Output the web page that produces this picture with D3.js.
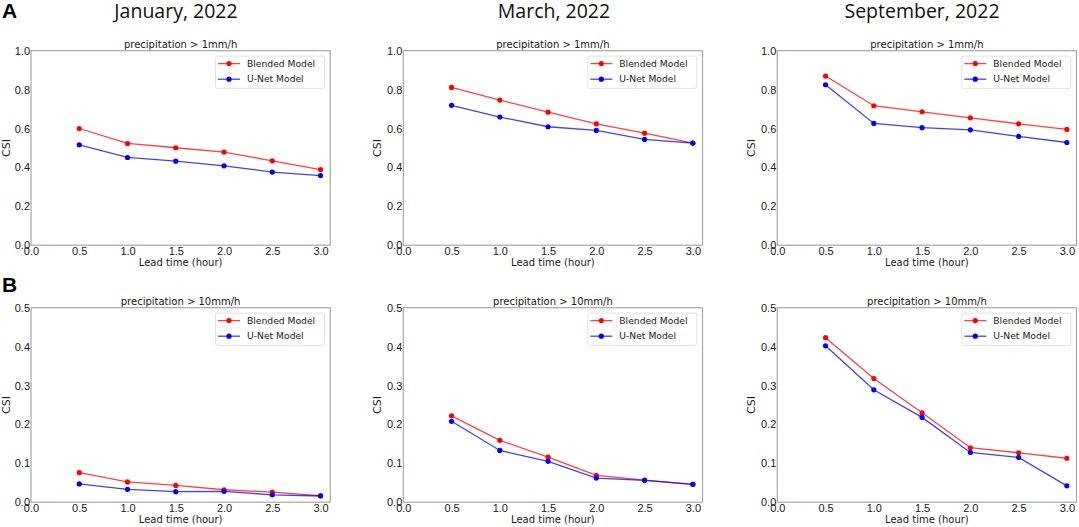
<!DOCTYPE html>
<html lang="en">
<head>
<meta charset="UTF-8">
<title>CSI by lead time</title>
<script src="https://d3js.org/d3.v7.min.js"></script>
<style>
    body { margin: 0; background: #fff; }
    svg { display: block; font-family: "DejaVu Sans", sans-serif; }
    .frame { fill: none; stroke: #a8a8a8; stroke-width: 1.2; }
    .tick text { fill: #1a1a1a; font-size: 11px; }
    .domain, .tick line { display: none; }
</style>
</head>
<body>
<div id="chart"></div>
<script>
    const leadTimes = [0.5, 1.0, 1.5, 2.0, 2.5, 3.0];
    const months = ["January, 2022", "March, 2022", "September, 2022"];
    const thresholds = ["precipitation > 1mm/h", "precipitation > 10mm/h"];
    const rowLetters = ["A", "B"];
    const rowMax = [1.0, 0.5];
    const yTicksTop = [0.0, 0.2, 0.4, 0.6, 0.8, 1.0];
    const yTicksBottom = [0.0, 0.1, 0.2, 0.3, 0.4, 0.5];
    const xTicks = [0.0, 0.5, 1.0, 1.5, 2.0, 2.5, 3.0];
    const seriesNames = ["Blended Model", "U-Net Model"];
    const seriesColors = ["#ff0000", "#0000ff"];

    // > 1mm/h
    const jan1Blended = [0.600, 0.523, 0.501, 0.479, 0.434, 0.389];
    const jan1Unet    = [0.516, 0.451, 0.432, 0.408, 0.376, 0.358];
    const mar1Blended = [0.811, 0.746, 0.684, 0.624, 0.576, 0.525];
    const mar1Unet    = [0.719, 0.659, 0.609, 0.590, 0.544, 0.525];
    const sep1Blended = [0.870, 0.717, 0.686, 0.655, 0.624, 0.595];
    const sep1Unet    = [0.825, 0.626, 0.604, 0.593, 0.559, 0.528];
    // > 10mm/h
    const jan10Blended = [0.076, 0.052, 0.043, 0.032, 0.026, 0.017];
    const jan10Unet    = [0.047, 0.033, 0.027, 0.028, 0.019, 0.016];
    const mar10Blended = [0.222, 0.159, 0.116, 0.069, 0.057, 0.046];
    const mar10Unet    = [0.208, 0.133, 0.105, 0.062, 0.056, 0.046];
    const sep10Blended = [0.423, 0.318, 0.230, 0.140, 0.127, 0.113];
    const sep10Unet    = [0.402, 0.289, 0.218, 0.128, 0.115, 0.042];

    const panelValues = [
        [[jan1Blended, jan1Unet], [mar1Blended, mar1Unet], [sep1Blended, sep1Unet]],
        [[jan10Blended, jan10Unet], [mar10Blended, mar10Unet], [sep10Blended, sep10Unet]]
    ];

    const W = 1079, H = 527;
    const colLeft = [31, 403.3, 777.3];
    const rowTop = [50.7, 307.7];
    const pw = 299.2, ph = 194.5;
    const monthCenters = [176, 554, 922];

    const svg = d3.select("#chart").append("svg")
        .attr("width", W).attr("height", H);

    months.forEach((m, i) => {
        svg.append("text")
            .attr("x", monthCenters[i]).attr("y", 18)
            .attr("text-anchor", "middle")
            .style("font-family", "'Open Sans', sans-serif")
            .style("font-size", "19.5px")
            .attr("fill", "#111")
            .text(m);
    });

    rowLetters.forEach((l, r) => {
        svg.append("text")
            .attr("x", 2).attr("y", r === 0 ? 18 : 291.7)
            .style("font-family", "'Liberation Sans', Arial, sans-serif")
            .style("font-size", "21px")
            .style("font-weight", "bold")
            .attr("fill", "#000")
            .text(l);
    });

    const line = (x, y) => d3.line()
        .x((d, i) => x(leadTimes[i]))
        .y(d => y(d));

    for (let r = 0; r < 2; r++) {
        for (let c = 0; c < 3; c++) {
            const g = svg.append("g")
                .attr("transform", `translate(${colLeft[c]},${rowTop[r]})`);

            const x = d3.scaleLinear().domain([0, 3.1]).range([0, pw]);
            const y = d3.scaleLinear().domain([0, rowMax[r]]).range([ph, 0]);

            g.append("g")
                .attr("transform", `translate(0,${ph})`)
                .call(d3.axisBottom(x).tickValues(xTicks).tickSize(0).tickPadding(2)
                    .tickFormat(d3.format(".1f")));

            g.append("g")
                .call(d3.axisLeft(y).tickValues(r === 0 ? yTicksTop : yTicksBottom)
                    .tickSize(0).tickPadding(1).tickFormat(d3.format(".1f")));

            g.append("rect").attr("class", "frame")
                .attr("width", pw).attr("height", ph);

            g.append("text")
                .attr("x", pw / 2).attr("y", -3)
                .attr("text-anchor", "middle")
                .style("font-size", "10px")
                .attr("fill", "#1a1a1a")
                .text(thresholds[r]);

            g.append("text")
                .attr("x", pw / 2).attr("y", ph + 21)
                .attr("text-anchor", "middle")
                .style("font-size", "10px")
                .attr("fill", "#1a1a1a")
                .text("Lead time (hour)");

            g.append("text")
                .attr("transform", `translate(${c === 0 ? -21 : -22},${ph / 2}) rotate(-90)`)
                .attr("text-anchor", "middle")
                .style("font-size", "11px")
                .attr("fill", "#1a1a1a")
                .text("CSI");

            panelValues[r][c].forEach((vals, s) => {
                g.append("path")
                    .datum(vals)
                    .attr("fill", "none")
                    .attr("stroke", seriesColors[s])
                    .attr("stroke-opacity", 0.75)
                    .attr("stroke-width", 1.3)
                    .attr("d", line(x, y));

                g.selectAll(null)
                    .data(vals)
                    .join("circle")
                    .attr("cx", (d, i) => x(leadTimes[i]))
                    .attr("cy", d => y(d))
                    .attr("r", 2.6)
                    .attr("fill", seriesColors[s]);
            });

            // legend
            const lw = 109, lh = 32.3;
            const lg = g.append("g")
                .attr("transform", `translate(${pw - 5.7 - lw},5.4)`);
            lg.append("rect")
                .attr("width", lw).attr("height", lh)
                .attr("rx", 2)
                .attr("fill", "#fff").attr("fill-opacity", 0.8)
                .attr("stroke", "#dadada").attr("stroke-width", 0.8);
            seriesNames.forEach((name, s) => {
                const yy = 7.5 + s * 15.6;
                lg.append("line")
                    .attr("x1", 2.5).attr("x2", 24.5)
                    .attr("y1", yy).attr("y2", yy)
                    .attr("stroke", seriesColors[s])
                    .attr("stroke-opacity", 0.75)
                    .attr("stroke-width", 1.3);
                lg.append("circle")
                    .attr("cx", 13.5).attr("cy", yy).attr("r", 2.6)
                    .attr("fill", seriesColors[s]);
                lg.append("text")
                    .attr("x", 31.5).attr("y", yy + 3.3)
                    .style("font-size", "9.2px")
                    .attr("fill", "#1a1a1a")
                    .text(name);
            });
        }
    }
</script>
</body>
</html>
